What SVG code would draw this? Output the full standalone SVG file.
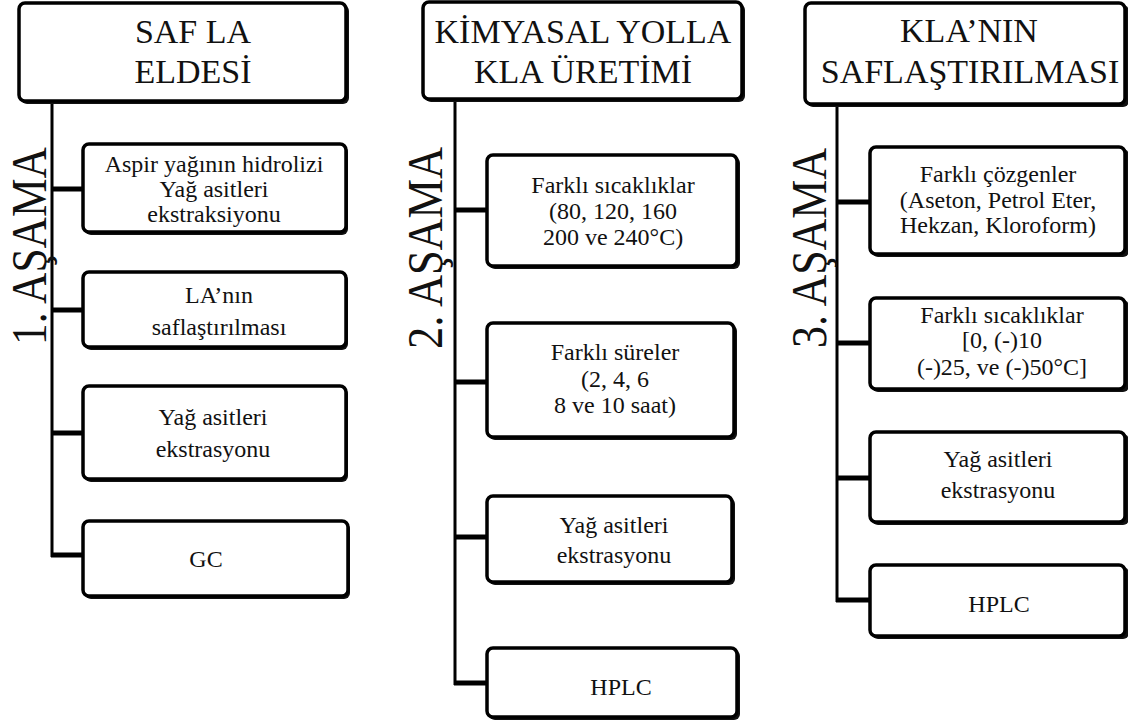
<svg xmlns="http://www.w3.org/2000/svg" width="1128" height="723" viewBox="0 0 1128 723" font-family="'Liberation Serif', 'Times New Roman', 'DejaVu Serif', serif">
<style>
.box{fill:#fff;stroke:#000;stroke-width:3.5}
.sh{fill:#111}
text{font-family:'Liberation Serif','Times New Roman','DejaVu Serif',serif;fill:#111;text-anchor:middle}
.title{font-size:34px}
.body{font-size:24px}
.stage{font-size:50px}
.vline{stroke:#000;stroke-width:3;fill:none}
.hline{stroke:#000;stroke-width:5;fill:none}
</style>
<rect width="1128" height="723" fill="#fff"/>
<g id="connectors">
<line class="vline" x1="52" y1="102" x2="52" y2="557"/>
<line class="hline" x1="51" y1="189" x2="84" y2="189"/>
<line class="hline" x1="51" y1="310" x2="84" y2="310"/>
<line class="hline" x1="51" y1="433" x2="84" y2="433"/>
<line class="hline" x1="51" y1="555" x2="84" y2="555"/>
<line class="vline" x1="455" y1="100" x2="455" y2="685"/>
<line class="hline" x1="454" y1="210" x2="488" y2="210"/>
<line class="hline" x1="454" y1="382" x2="488" y2="382"/>
<line class="hline" x1="454" y1="537" x2="488" y2="537"/>
<line class="hline" x1="454" y1="683" x2="488" y2="683"/>
<line class="vline" x1="837" y1="105" x2="837" y2="602"/>
<line class="hline" x1="836" y1="202" x2="871" y2="202"/>
<line class="hline" x1="836" y1="343" x2="871" y2="343"/>
<line class="hline" x1="836" y1="478" x2="871" y2="478"/>
<line class="hline" x1="836" y1="600" x2="871" y2="600"/>
</g>
<g id="stage1-label"><text class="stage" transform="translate(46,246) rotate(-90)" textLength="198" lengthAdjust="spacingAndGlyphs">1. AŞAMA</text></g>
<g id="stage2-label"><text class="stage" transform="translate(442,248) rotate(-90)" textLength="202" lengthAdjust="spacingAndGlyphs">2. AŞAMA</text></g>
<g id="stage3-label"><text class="stage" transform="translate(826,248) rotate(-90)" textLength="200" lengthAdjust="spacingAndGlyphs">3. AŞAMA</text></g>

<g id="n1-title">
<rect class="sh" x="21" y="5" width="328" height="99" rx="6"/>
<rect class="box" x="19" y="3" width="327" height="98" rx="6"/>
<text class="title" x="193" y="43">SAF LA</text>
<text class="title" x="193" y="83">ELDESİ</text>
</g>
<g id="n1-a">
<rect class="sh" x="85" y="146" width="263" height="89" rx="6"/>
<rect class="box" x="83" y="144" width="263" height="88" rx="6"/>
<text class="body" x="214" y="172">Aspir yağının hidrolizi</text>
<text class="body" x="214" y="197">Yağ asitleri</text>
<text class="body" x="214" y="222">ekstraksiyonu</text>
</g>
<g id="n1-b">
<rect class="sh" x="85" y="274" width="263" height="76" rx="6"/>
<rect class="box" x="83" y="272" width="263" height="75" rx="6"/>
<text class="body" x="219" y="303">LA’nın</text>
<text class="body" x="219" y="335">saflaştırılması</text>
</g>
<g id="n1-c">
<rect class="sh" x="85" y="388" width="263" height="94" rx="6"/>
<rect class="box" x="83" y="386" width="263" height="93" rx="6"/>
<text class="body" x="213" y="425">Yağ asitleri</text>
<text class="body" x="213" y="457">ekstrasyonu</text>
</g>
<g id="n1-d">
<rect class="sh" x="85" y="523" width="265" height="76" rx="6"/>
<rect class="box" x="83" y="521" width="265" height="75" rx="6"/>
<text class="body" x="206" y="567">GC</text>
</g>

<g id="n2-title">
<rect class="sh" x="425" y="4" width="320" height="98" rx="6"/>
<rect class="box" x="423" y="2" width="319" height="97" rx="6"/>
<text class="title" x="583" y="43">KİMYASAL YOLLA</text>
<text class="title" x="583" y="83">KLA ÜRETİMİ</text>
</g>
<g id="n2-a">
<rect class="sh" x="489" y="157" width="251" height="112" rx="6"/>
<rect class="box" x="487" y="155" width="250" height="111" rx="6"/>
<text class="body" x="613" y="193">Farklı sıcaklıklar</text>
<text class="body" x="613" y="219">(80, 120, 160</text>
<text class="body" x="613" y="245">200 ve 240°C)</text>
</g>
<g id="n2-b">
<rect class="sh" x="489" y="325" width="248" height="115" rx="6"/>
<rect class="box" x="487" y="323" width="247" height="114" rx="6"/>
<text class="body" x="615" y="360">Farklı süreler</text>
<text class="body" x="615" y="387">(2, 4, 6</text>
<text class="body" x="615" y="413">8 ve 10 saat)</text>
</g>
<g id="n2-c">
<rect class="sh" x="489" y="498" width="246" height="87" rx="6"/>
<rect class="box" x="487" y="496" width="245" height="86" rx="6"/>
<text class="body" x="614" y="533">Yağ asitleri</text>
<text class="body" x="614" y="563">ekstrasyonu</text>
</g>
<g id="n2-d">
<rect class="sh" x="489" y="650" width="251" height="70" rx="6"/>
<rect class="box" x="487" y="648" width="250" height="69" rx="6"/>
<text class="body" x="621" y="695">HPLC</text>
</g>

<g id="n3-title">
<rect class="sh" x="807" y="5" width="322" height="102" rx="6"/>
<rect class="box" x="805" y="3" width="320" height="101" rx="6"/>
<text class="title" x="969" y="42">KLA’NIN</text>
<text class="title" x="970" y="83">SAFLAŞTIRILMASI</text>
</g>
<g id="n3-a">
<rect class="sh" x="872" y="149" width="257" height="108" rx="6"/>
<rect class="box" x="870" y="147" width="255" height="107" rx="6"/>
<text class="body" x="998" y="182">Farklı çözgenler</text>
<text class="body" x="998" y="208">(Aseton, Petrol Eter,</text>
<text class="body" x="998" y="233">Hekzan, Kloroform)</text>
</g>
<g id="n3-b">
<rect class="sh" x="872" y="300" width="257" height="92" rx="6"/>
<rect class="box" x="870" y="298" width="255" height="91" rx="6"/>
<text class="body" x="1002" y="323">Farklı sıcaklıklar</text>
<text class="body" x="1002" y="348">[0, (-)10</text>
<text class="body" x="1002" y="375">(-)25, ve (-)50°C]</text>
</g>
<g id="n3-c">
<rect class="sh" x="872" y="434" width="257" height="91" rx="6"/>
<rect class="box" x="870" y="432" width="255" height="90" rx="6"/>
<text class="body" x="998" y="467">Yağ asitleri</text>
<text class="body" x="998" y="498">ekstrasyonu</text>
</g>
<g id="n3-d">
<rect class="sh" x="872" y="567" width="257" height="72" rx="6"/>
<rect class="box" x="870" y="565" width="255" height="71" rx="6"/>
<text class="body" x="999" y="612">HPLC</text>
</g>
</svg>
